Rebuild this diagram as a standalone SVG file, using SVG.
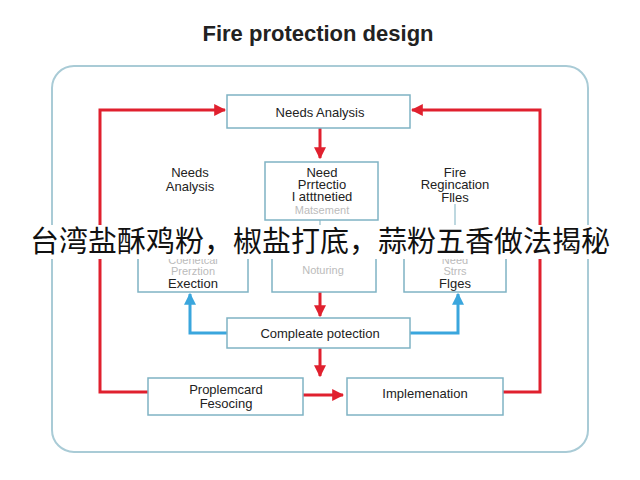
<svg xmlns="http://www.w3.org/2000/svg" width="640" height="480" viewBox="0 0 640 480">
<defs>
<marker id="ar" viewBox="0 0 10 10" refX="9" refY="5" markerWidth="4" markerHeight="4" orient="auto"><path d="M0,0L10,5L0,10z" fill="#e0202e"/></marker>
<marker id="ab" viewBox="0 0 10 10" refX="9" refY="5" markerWidth="4" markerHeight="4" orient="auto"><path d="M0,0L10,5L0,10z" fill="#3aa6dd"/></marker>
</defs>
<style>
.b{fill:#fff;stroke:#7fb3c4;stroke-width:1.5}
.t{font-family:"Liberation Sans",Arial,sans-serif;font-size:13px;fill:#222;text-anchor:middle}
.f{fill:#bbb;font-size:11px}
.r{fill:none;stroke:#e0202e;stroke-width:3;marker-end:url(#ar)}
.u{fill:none;stroke:#3aa6dd;stroke-width:3;marker-end:url(#ab)}
</style>
<rect width="640" height="480" fill="#fff"/>
<text x="318" y="41" font-family="Liberation Sans,Arial,sans-serif" font-size="22" font-weight="bold" text-anchor="middle" fill="#222">Fire protection design</text>
<rect x="52" y="66" width="536" height="386" rx="22" fill="none" stroke="#a9cbd6" stroke-width="2"/>
<g id="connectors">
<path class="r" d="M148,392H100V110H225"/>
<path class="r" d="M503,392H540V110H412"/>
<path class="r" d="M320,128V158"/>
<path class="r" d="M320,292V316"/>
<path class="r" d="M320,348V376"/>
<path class="r" d="M303,395H343"/>
<path class="u" d="M227,333H190V294"/>
<path class="u" d="M410,333H458V294"/>
<path d="M320,220V240M455,204V240" stroke="#a9cbd6" stroke-width="1.5"/>
</g>
<g id="needs"><rect class="b" x="227" y="95" width="183" height="33"/><text class="t" x="320" y="117">Needs Analysis</text></g>
<g id="lbl-left"><text class="t" x="190" y="177">Needs</text><text class="t" x="190" y="191">Analysis</text></g>
<g id="lbl-right"><text class="t" x="455" y="177">Fire</text><text class="t" x="455" y="189">Regincation</text><text class="t" x="455" y="202">Flles</text></g>
<g id="need"><rect class="b" x="265" y="162" width="113" height="58"/><text class="t" x="322" y="177">Need</text><text class="t" x="322" y="189">Prrtectio</text><text class="t" x="322" y="201">I atttnetied</text><text class="t f" x="322" y="214">Matsement</text></g>
<g id="exec"><rect class="b" x="138" y="240" width="110" height="52"/><text class="t f" x="193" y="264">Coenetcal</text><text class="t f" x="193" y="275">Prerztion</text><text class="t" x="193" y="288">Exection</text></g>
<g id="notur"><rect class="b" x="272" y="240" width="104" height="52"/><text class="t f" x="323" y="274">Noturing</text></g>
<g id="flges"><rect class="b" x="404" y="240" width="102" height="52"/><text class="t f" x="455" y="264">Need</text><text class="t f" x="455" y="275">Strrs</text><text class="t" x="455" y="288">Flges</text></g>
<g id="complete"><rect class="b" x="227" y="318" width="183" height="30"/><text class="t" x="320" y="338">Compleate potection</text></g>
<g id="prop"><rect class="b" x="148" y="378" width="155" height="37"/><text class="t" x="226" y="394">Proplemcard</text><text class="t" x="226" y="408">Fesocing</text></g>
<g id="impl"><rect class="b" x="347" y="378" width="156" height="37"/><text class="t" x="425" y="398">Implemenation</text></g>
<rect x="0" y="225" width="640" height="34" fill="#fff"/>
<text x="320" y="252" font-family="Noto Sans CJK SC,sans-serif" font-size="29" text-anchor="middle" fill="#111">台湾盐酥鸡粉，椒盐打底，蒜粉五香做法揭秘</text>
</svg>
